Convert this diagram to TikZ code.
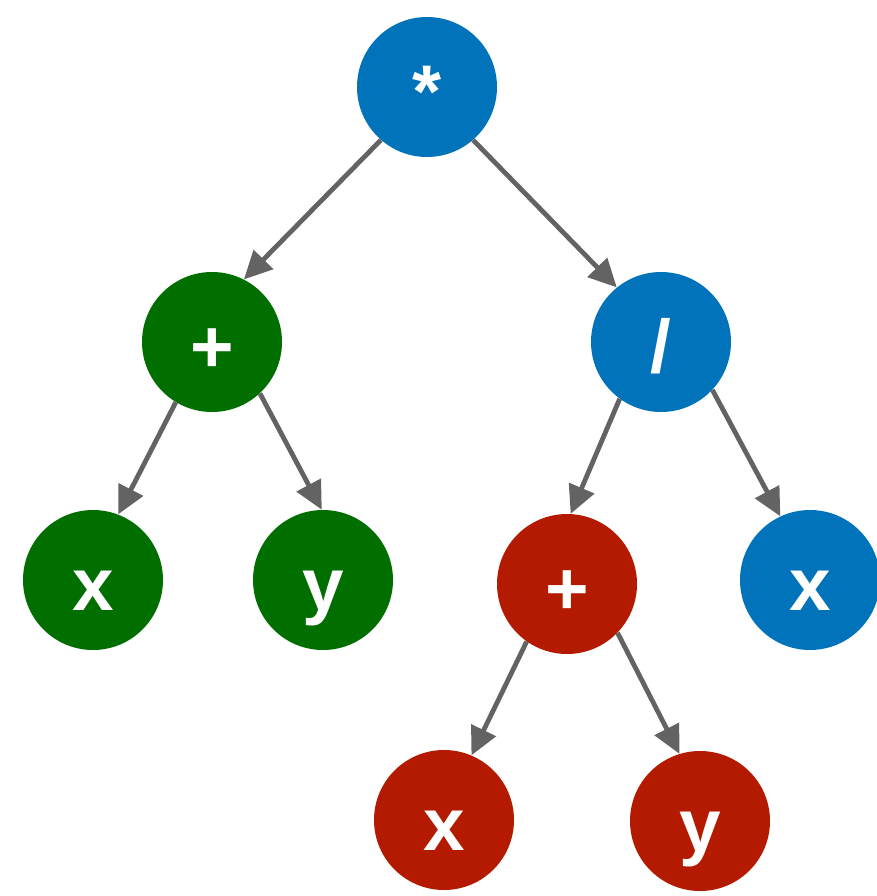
\documentclass[tikz,border=0pt]{standalone}
\usepackage{fontspec}
\setmainfont{Liberation Sans}
\usetikzlibrary{arrows.meta}
\definecolor{nodeblue}{HTML}{0073BA}
\definecolor{nodegreen}{HTML}{006F00}
\definecolor{nodered}{HTML}{B41A00}
\definecolor{edgegray}{HTML}{636363}

\begin{document}
\begin{tikzpicture}[
    x=0.75pt, y=-0.75pt,
    opnode/.style={
      circle,
      minimum size=105pt,
      inner sep=0pt,
      text=white,
      font=\fontsize{56}{56}\selectfont\bfseries,
      text height=45pt,
      text depth=0pt
    },
    treearrow/.style={
      draw=edgegray,
      line width=3.6pt,
      -{Triangle[length=21pt,width=20pt]}
    }
  ]
  \clip (0,0) rectangle (877,896);
  \useasboundingbox (0,0) rectangle (877,896);

  % operators and operands
  \node[opnode, fill=nodeblue]  (times) at (427,87)  {*};
  \node[opnode, fill=nodegreen] (plusL) at (212,342) {+};
  \node[opnode, fill=nodeblue]  (divR)  at (661,342) {/};
  \node[opnode, fill=nodegreen] (xL)    at (93,580)  {x};
  \node[opnode, fill=nodegreen] (yL)    at (323,580) {y};
  \node[opnode, fill=nodered]   (plusR) at (567,584) {+};
  \node[opnode, fill=nodeblue]  (xR)    at (810,580) {x};
  \node[opnode, fill=nodered]   (xB)    at (444,820) {x};
  \node[opnode, fill=nodered]   (yB)    at (700,821) {y};

  % arrows
  \draw[treearrow] (times.229) -- (plusL.63);
  \draw[treearrow] (times.-49) -- (divR.129);
  \draw[treearrow] (plusL.-121) -- (xL.69);
  \draw[treearrow] (plusL.-47) -- (yL.91);
  \draw[treearrow] (divR.234) -- (plusR.87);
  \draw[treearrow] (divR.-43) -- (xR.115);
  \draw[treearrow] (plusR.235) -- (xB.67);
  \draw[treearrow] (plusR.-44) -- (yB.107);
\end{tikzpicture}
\end{document}
